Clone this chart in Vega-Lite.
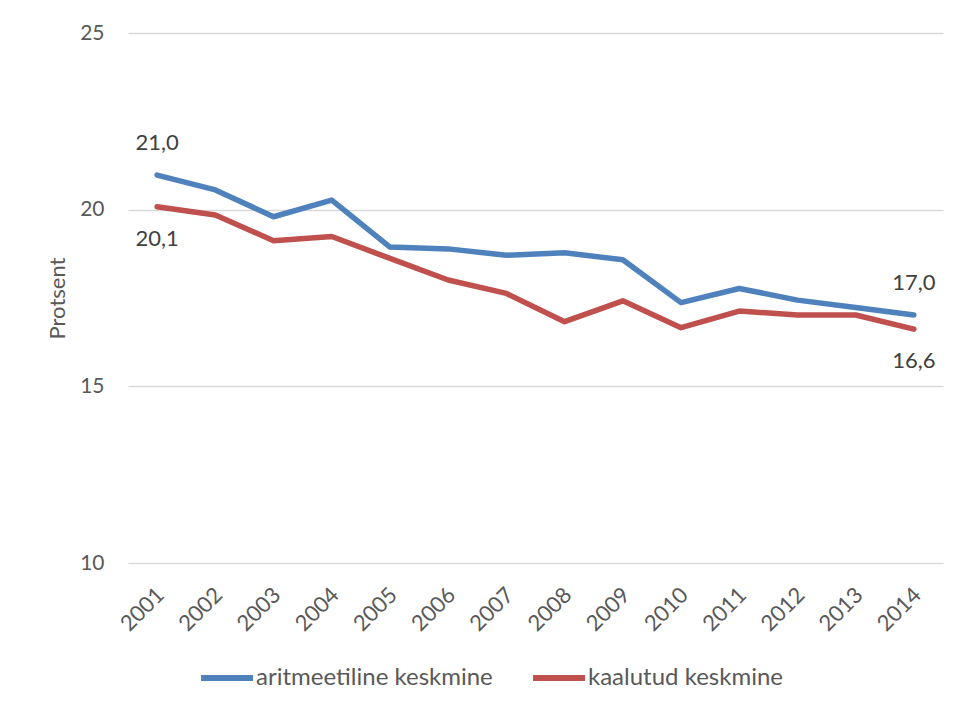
{
  "$schema": "https://vega.github.io/schema/vega-lite/v6.json",
  "width": 815,
  "height": 530,
  "autosize": "none",
  "padding": {"left": 128, "top": 33, "right": 15, "bottom": 148},
  "background": "white",
  "config": {
    "view": {"stroke": null},
    "font": "Lato",
    "locale": {"number": {"decimal": ",", "thousands": " ", "grouping": [3], "currency": ["", " €"]}}
  },
  "data": {
    "values": [
      {"year": "2001", "series": "aritmeetiline keskmine", "value": 20.98},
      {"year": "2002", "series": "aritmeetiline keskmine", "value": 20.56},
      {"year": "2003", "series": "aritmeetiline keskmine", "value": 19.8},
      {"year": "2004", "series": "aritmeetiline keskmine", "value": 20.27},
      {"year": "2005", "series": "aritmeetiline keskmine", "value": 18.94},
      {"year": "2006", "series": "aritmeetiline keskmine", "value": 18.89},
      {"year": "2007", "series": "aritmeetiline keskmine", "value": 18.71},
      {"year": "2008", "series": "aritmeetiline keskmine", "value": 18.78},
      {"year": "2009", "series": "aritmeetiline keskmine", "value": 18.58},
      {"year": "2010", "series": "aritmeetiline keskmine", "value": 17.37},
      {"year": "2011", "series": "aritmeetiline keskmine", "value": 17.77},
      {"year": "2012", "series": "aritmeetiline keskmine", "value": 17.44},
      {"year": "2013", "series": "aritmeetiline keskmine", "value": 17.23},
      {"year": "2014", "series": "aritmeetiline keskmine", "value": 17.02},
      {"year": "2001", "series": "kaalutud keskmine", "value": 20.08},
      {"year": "2002", "series": "kaalutud keskmine", "value": 19.85},
      {"year": "2003", "series": "kaalutud keskmine", "value": 19.12},
      {"year": "2004", "series": "kaalutud keskmine", "value": 19.24},
      {"year": "2005", "series": "kaalutud keskmine", "value": 18.62},
      {"year": "2006", "series": "kaalutud keskmine", "value": 18.01},
      {"year": "2007", "series": "kaalutud keskmine", "value": 17.63},
      {"year": "2008", "series": "kaalutud keskmine", "value": 16.83},
      {"year": "2009", "series": "kaalutud keskmine", "value": 17.42},
      {"year": "2010", "series": "kaalutud keskmine", "value": 16.66},
      {"year": "2011", "series": "kaalutud keskmine", "value": 17.13},
      {"year": "2012", "series": "kaalutud keskmine", "value": 17.02},
      {"year": "2013", "series": "kaalutud keskmine", "value": 17.02},
      {"year": "2014", "series": "kaalutud keskmine", "value": 16.62}
    ]
  },
  "encoding": {
    "x": {
      "field": "year", "type": "ordinal",
      "scale": {"type": "point", "padding": 0.5},
      "axis": {
        "title": null, "labelAngle": -45, "labelFontSize": 22, "labelColor": "#595959",
        "ticks": false, "domain": false, "grid": false, "labelPadding": 21, "labelOffset": -4
      }
    },
    "y": {
      "field": "value", "type": "quantitative",
      "scale": {"domain": [10, 25], "nice": false, "zero": false},
      "axis": {
        "title": "Protsent", "titleFontSize": 22, "titleFontWeight": "normal", "titleColor": "#595959",
        "titlePadding": 10,
        "values": [10, 15, 20, 25], "labelFontSize": 21, "labelColor": "#595959",
        "ticks": false, "domain": false, "grid": true, "gridColor": "#D9D9D9", "gridWidth": 1.3,
        "labelPadding": 24
      }
    }
  },
  "layer": [
    {
      "mark": {"type": "line", "strokeWidth": 5.5, "strokeCap": "round", "strokeJoin": "round"},
      "encoding": {
        "color": {
          "field": "series", "type": "nominal",
          "scale": {"domain": ["aritmeetiline keskmine", "kaalutud keskmine"], "range": ["#4F81BD", "#C0504D"]},
          "legend": {
            "title": null, "orient": "none", "direction": "horizontal", "legendX": 70, "legendY": 616,
            "symbolType": "stroke", "symbolSize": 2700, "symbolStrokeWidth": 6,
            "labelFontSize": 24, "labelColor": "#595959", "labelOffset": 0, "columnPadding": 28,
            "labelLimit": 400
          }
        }
      }
    },
    {
      "transform": [{"filter": "datum.series == 'aritmeetiline keskmine' && (datum.year == '2001' || datum.year == '2014')"}],
      "mark": {"type": "text", "dy": -32, "fontSize": 22, "color": "#404040"},
      "encoding": {"text": {"field": "value", "type": "quantitative", "format": ".1f"}}
    },
    {
      "transform": [{"filter": "datum.series == 'kaalutud keskmine' && (datum.year == '2001' || datum.year == '2014')"}],
      "mark": {"type": "text", "dy": 32, "fontSize": 22, "color": "#404040"},
      "encoding": {"text": {"field": "value", "type": "quantitative", "format": ".1f"}}
    }
  ]
}
